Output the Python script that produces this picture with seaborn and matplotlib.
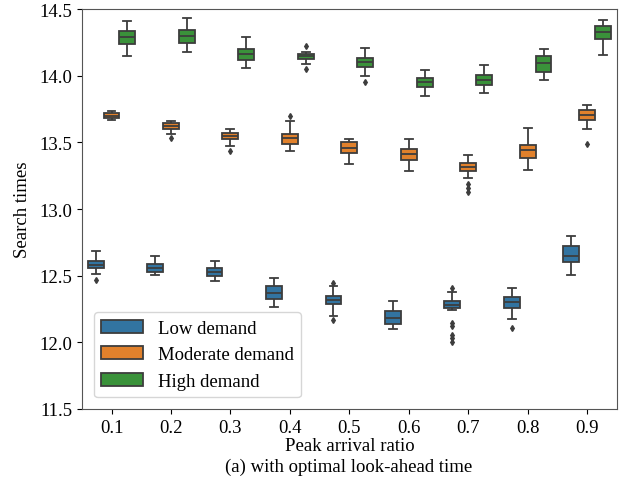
import numpy as np
import pandas as pd
import seaborn as sns
import matplotlib.pyplot as plt

plt.rcParams["font.family"] = ["Liberation Serif", "DejaVu Serif"]

ratios = ["0.1", "0.2", "0.3", "0.4", "0.5", "0.6", "0.7", "0.8", "0.9"]
demand_levels = ["Low demand", "Moderate demand", "High demand"]

low_demand = [
    [12.465, 12.51, 12.555, 12.57, 12.582, 12.60, 12.612, 12.65, 12.687],
    [12.505, 12.52, 12.53, 12.545, 12.56, 12.575, 12.587, 12.62, 12.647],
    [12.457, 12.48, 12.495, 12.51, 12.525, 12.54, 12.555, 12.58, 12.61],
    [12.262, 12.30, 12.327, 12.35, 12.367, 12.40, 12.422, 12.45, 12.48],
    [12.17, 12.20, 12.285, 12.30, 12.32, 12.33, 12.345, 12.42, 12.445],
    [12.10, 12.12, 12.135, 12.16, 12.185, 12.21, 12.235, 12.27, 12.307],
    [12.005, 12.035, 12.057, 12.12, 12.145, 12.245, 12.255, 12.26, 12.265,
     12.27, 12.275, 12.28, 12.282, 12.29, 12.295, 12.30, 12.305, 12.308,
     12.31, 12.32, 12.33, 12.34, 12.355, 12.375, 12.405],
    [12.107, 12.175, 12.26, 12.28, 12.30, 12.32, 12.337, 12.37, 12.407],
    [12.502, 12.55, 12.60, 12.62, 12.645, 12.69, 12.725, 12.76, 12.795],
]
moderate_demand = [
    [13.665, 13.675, 13.685, 13.692, 13.70, 13.71, 13.718, 13.725, 13.733],
    [13.53, 13.562, 13.60, 13.61, 13.622, 13.632, 13.642, 13.65, 13.66],
    [13.437, 13.475, 13.525, 13.54, 13.55, 13.56, 13.572, 13.585, 13.602],
    [13.437, 13.46, 13.49, 13.51, 13.53, 13.55, 13.565, 13.66, 13.695],
    [13.34, 13.38, 13.422, 13.44, 13.457, 13.48, 13.50, 13.51, 13.525],
    [13.285, 13.33, 13.37, 13.39, 13.41, 13.43, 13.45, 13.49, 13.522],
    [13.125, 13.155, 13.185, 13.232, 13.285, 13.295, 13.30, 13.31, 13.315,
     13.32, 13.33, 13.34, 13.345, 13.36, 13.375, 13.39, 13.405],
    [13.292, 13.34, 13.385, 13.42, 13.445, 13.465, 13.482, 13.55, 13.607],
    [13.487, 13.598, 13.67, 13.69, 13.707, 13.725, 13.74, 13.76, 13.78],
]
high_demand = [
    [14.15, 14.20, 14.242, 14.27, 14.292, 14.31, 14.333, 14.37, 14.412],
    [14.177, 14.21, 14.247, 14.27, 14.295, 14.32, 14.342, 14.39, 14.432],
    [14.055, 14.09, 14.117, 14.14, 14.16, 14.18, 14.20, 14.25, 14.292],
    [14.048, 14.092, 14.125, 14.135, 14.145, 14.152, 14.16, 14.18, 14.22],
    [13.955, 14.0, 14.067, 14.09, 14.105, 14.12, 14.137, 14.17, 14.212],
    [13.85, 13.89, 13.917, 13.935, 13.95, 13.965, 13.98, 14.01, 14.042],
    [13.872, 13.90, 13.93, 13.95, 13.967, 13.985, 14.005, 14.04, 14.08],
    [13.965, 13.99, 14.025, 14.06, 14.095, 14.12, 14.15, 14.18, 14.202],
    [14.153, 14.22, 14.275, 14.30, 14.33, 14.355, 14.377, 14.40, 14.42],
]

rows = []
for level, series in zip(demand_levels, [low_demand, moderate_demand, high_demand]):
    for ratio, values in zip(ratios, series):
        for v in values:
            rows.append({"ratio": ratio, "demand": level, "search": v})
df = pd.DataFrame(rows)

fig = plt.figure(figsize=(6.34, 4.85), dpi=100)
ax = fig.add_axes([0.129, 0.155, 0.844, 0.824])

sns.boxplot(data=df, x="ratio", y="search", hue="demand", order=ratios,
            hue_order=demand_levels, palette=["#1f77b4", "#ff7f0e", "#2ca02c"],
            saturation=0.75, linewidth=1.3, linecolor="#3d3d3d",
            flierprops=dict(marker="d", markersize=3, markerfacecolor="#3d3d3d",
                            markeredgecolor="#3d3d3d"),
            ax=ax)

ax.set_ylim(11.5, 14.5)
ax.set_yticks(np.arange(11.5, 14.51, 0.5))
ax.set_yticklabels([f"{t:.1f}" for t in np.arange(11.5, 14.51, 0.5)])
ax.tick_params(labelsize=13.5)
ax.set_xlabel("Peak arrival ratio", fontsize=13.5, labelpad=1)
ax.set_ylabel("Search times", fontsize=13.5, labelpad=6)
for s in ax.spines.values():
    s.set_color("#555555")

ax.legend(loc="lower left", fontsize=13.5, frameon=True, handlelength=2.2,
          bbox_to_anchor=(0.005, 0.005))

fig.text(0.55, 0.037, "(a) with optimal look-ahead time", ha="center",
         va="center", fontsize=13.5)

fig.savefig("out.png", dpi=100)
